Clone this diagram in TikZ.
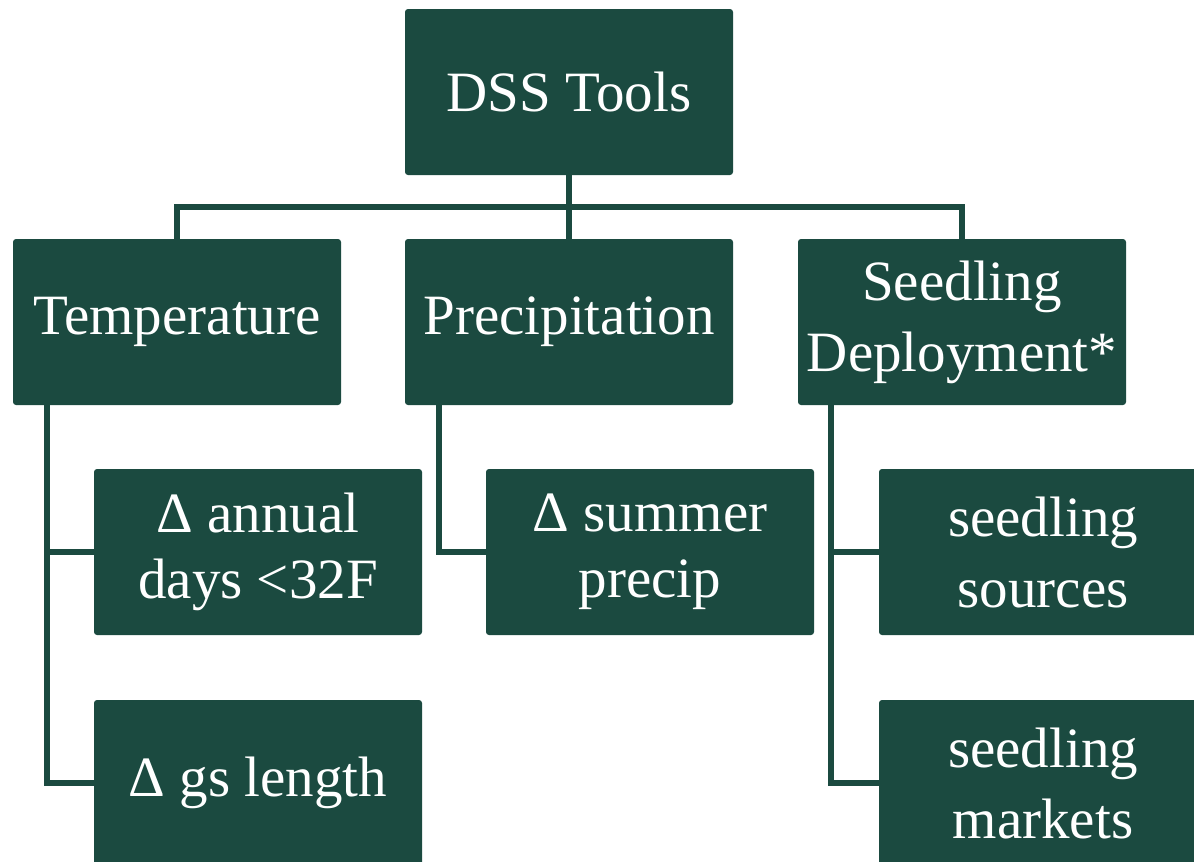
\documentclass[tikz,border=0pt]{standalone}
\usepackage{fontspec}
\setmainfont{Liberation Serif}
\definecolor{dgreen}{HTML}{1B4A40}
\begin{document}
\begin{tikzpicture}[x=1pt,y=-1pt,
  box/.style={fill=dgreen, rounded corners=3pt, minimum width=328pt, minimum height=166pt,
    inner sep=0pt, text=white, align=center, font=\fontsize{57}{71}\selectfont},
  tight/.style={font=\fontsize{57}{66}\selectfont},
  conn/.style={draw=dgreen, line width=5.5pt}]
\useasboundingbox (0,0) rectangle (1194,862);
\clip (0,0) rectangle (1194,862);
\node[box] (dss) at (569,92) {DSS Tools};
\node[box] (temp) at (177,322) {Temperature};
\node[box] (prec) at (569,322) {Precipitation};
\node[box] (seed) at (962,322) {Seedling\\Deployment*};
\node[box, tight] (annual) at (258,552) {Δ annual\\days <32F};
\node[box, tight] (summer) at (650,552) {Δ summer\\precip};
\node[box] (sources) at (1043,552) {seedling\\sources};
\node[box] (gs) at (258,783) {Δ gs length};
\node[box] (markets) at (1043,783) {seedling\\markets};
\coordinate (bus) at (569,207);
\draw[conn] (dss.south) -- (bus);
\draw[conn] (temp.north) |- (bus) -| (seed.north);
\draw[conn] (bus) -- (prec.north);
\draw[conn] ([xshift=-130pt]temp.south) |- (annual.west);
\draw[conn] ([xshift=-130pt]temp.south) |- (gs.west);
\draw[conn] ([xshift=-130pt]prec.south) |- (summer.west);
\draw[conn] ([xshift=-131pt]seed.south) |- (sources.west);
\draw[conn] ([xshift=-131pt]seed.south) |- (markets.west);
\end{tikzpicture}
\end{document}
